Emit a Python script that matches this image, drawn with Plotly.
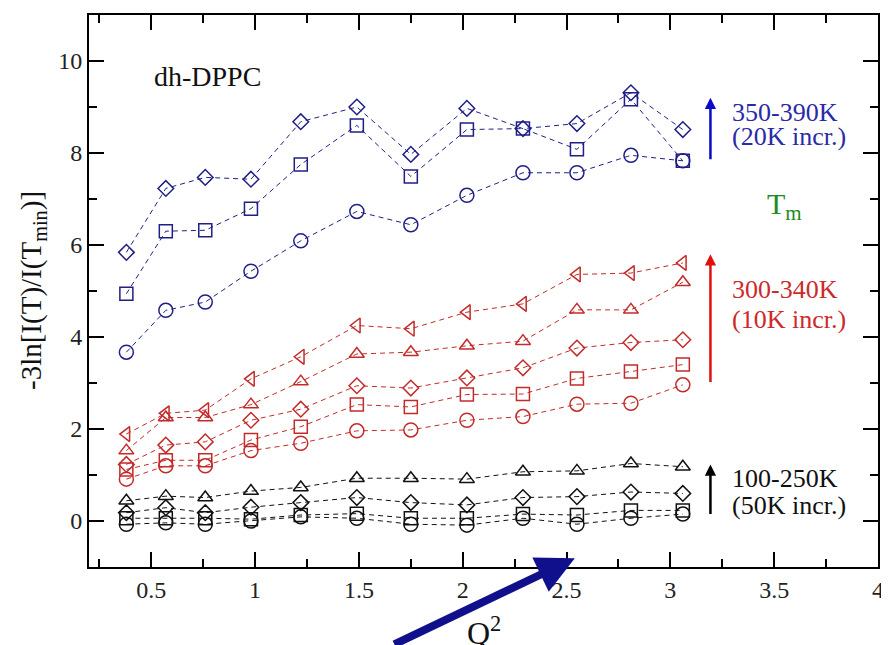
import plotly.graph_objects as go

# ---- data ----
q2 = [0.38, 0.57, 0.76, 0.98, 1.22, 1.49, 1.75, 2.02, 2.29, 2.55, 2.81, 3.06]

b350 = [3.67, 4.58, 4.76, 5.43, 6.09, 6.73, 6.44, 7.08, 7.57, 7.57, 7.95, 7.83]
b370 = [4.94, 6.30, 6.32, 6.79, 7.75, 8.60, 7.49, 8.51, 8.53, 8.08, 9.17, 7.83]
b390 = [5.84, 7.23, 7.47, 7.43, 8.68, 9.00, 7.97, 8.97, 8.53, 8.64, 9.31, 8.51]

r300 = [0.91, 1.20, 1.20, 1.53, 1.69, 1.96, 1.98, 2.19, 2.27, 2.54, 2.56, 2.96]
r310 = [1.12, 1.32, 1.32, 1.76, 2.05, 2.53, 2.48, 2.75, 2.76, 3.10, 3.25, 3.40]
r320 = [1.23, 1.65, 1.72, 2.19, 2.43, 2.94, 2.89, 3.11, 3.33, 3.76, 3.88, 3.94]
r330 = [1.53, 2.25, 2.25, 2.53, 3.03, 3.63, 3.67, 3.81, 3.91, 4.59, 4.59, 5.19]
r340 = [1.89, 2.34, 2.41, 3.09, 3.57, 4.25, 4.18, 4.54, 4.72, 5.36, 5.39, 5.61]

k100 = [-0.07, -0.04, -0.07, 0.00, 0.09, 0.06, -0.07, -0.09, 0.06, -0.07, 0.06, 0.15]
k150 = [0.06, 0.06, 0.06, 0.04, 0.13, 0.16, 0.06, 0.06, 0.15, 0.13, 0.23, 0.23]
k200 = [0.18, 0.29, 0.18, 0.30, 0.40, 0.51, 0.40, 0.35, 0.51, 0.53, 0.63, 0.60]
k250 = [0.44, 0.54, 0.51, 0.65, 0.73, 0.93, 0.93, 0.91, 1.07, 1.09, 1.25, 1.18]

x_ticks = [0.5, 1, 1.5, 2, 2.5, 3, 3.5, 4]
x_ticklabels = ["0.5", "1", "1.5", "2", "2.5", "3", "3.5", "4"]
y_ticks = [0, 2, 4, 6, 8, 10]
y_ticklabels = ["0", "2", "4", "6", "8", "10"]

BLUE = "#1f1f86"
RED = "#c42a2a"
BLACK = "#111111"

series = [
    ("100 K", k100, BLACK, "circle-open", 14),
    ("150 K", k150, BLACK, "square-open", 13),
    ("200 K", k200, BLACK, "diamond-open", 12),
    ("250 K", k250, BLACK, "triangle-up-open", 13),
    ("300 K", r300, RED, "circle-open", 14),
    ("310 K", r310, RED, "square-open", 13),
    ("320 K", r320, RED, "diamond-open", 12),
    ("330 K", r330, RED, "triangle-up-open", 13),
    ("340 K", r340, RED, "triangle-left-open", 13),
    ("350 K", b350, BLUE, "circle-open", 14),
    ("370 K", b370, BLUE, "square-open", 13),
    ("390 K", b390, BLUE, "diamond-open", 12),
]

fig = go.Figure()
for name, ys, col, sym, sz in series:
    fig.add_trace(go.Scatter(
        x=q2, y=ys, name=name, mode="lines+markers",
        line=dict(color=col, width=1, dash="5px,4px"),
        marker=dict(symbol=sym, size=sz, color=col, line=dict(color=col, width=1.5)),
        showlegend=False,
    ))

FONT = "Liberation Serif"

axis_common = dict(
    showline=True, linewidth=2, linecolor="black", mirror="allticks",
    ticks="inside", ticklen=15, tickwidth=2, tickcolor="black",
    showgrid=False, zeroline=False,
    tickfont=dict(family=FONT, size=24, color="#222"),
)
fig.update_xaxes(range=[0.2, 4], tickvals=x_ticks, ticktext=x_ticklabels,
                 minor=dict(dtick=0.25, ticklen=8, tickwidth=2, tickcolor="black", ticks="inside", tick0=0),
                 **axis_common)
fig.update_yaxes(range=[-1, 11], tickvals=y_ticks, ticktext=y_ticklabels,
                 minor=dict(dtick=1, ticklen=8, tickwidth=2, tickcolor="black", ticks="inside", tick0=0),
                 **axis_common)

ann = []
# text labels
ann.append(dict(x=0.505, y=9.67, xref="x", yref="y", text="dh-DPPC", showarrow=False,
                xanchor="left", yanchor="middle", font=dict(family=FONT, size=28, color="#111")))
for txt, yy, col in [("350-390K", 8.89, "#2a2aa8"), ("(20K incr.)", 8.35, "#2a2aa8"),
                     ("300-340K", 5.04, "#cc2a2a"), ("(10K incr.)", 4.38, "#cc2a2a"),
                     ("100-250K", 0.93, "#111"), ("(50K incr.)", 0.34, "#111")]:
    ann.append(dict(x=3.289, y=yy, xref="x", yref="y", text=txt, showarrow=False,
                    xanchor="left", yanchor="middle", font=dict(family=FONT, size=26, color=col)))
ann.append(dict(x=3.456, y=6.85, xref="x", yref="y", text="T<sub>m</sub>", showarrow=False,
                xanchor="left", yanchor="middle", font=dict(family=FONT, size=30, color="#1e8a1e")))
# small vertical arrows
for tip, tail, col in [(9.2, 7.83, "#0a0ac8"), (5.8, 2.99, "#e01010"), (1.23, 0.12, "#000")]:
    ann.append(dict(x=3.193, y=tip, ax=3.193, ay=tail, xref="x", yref="y", axref="x", ayref="y",
                    text="", showarrow=True, arrowhead=2, arrowsize=0.9, arrowwidth=2.5, arrowcolor=col))
# big navy arrow
ann.append(dict(x=2.54, y=-0.81, xref="x", yref="y", ax=-182, ay=88, axref="pixel", ayref="pixel",
                text="", showarrow=True, arrowhead=2, arrowsize=0.95, arrowwidth=8, arrowcolor="#10108c"))
# axis titles
ann.append(dict(x=0.5, y=0, xref="paper", yref="paper", text="Q<sup>2</sup>", showarrow=False,
                xanchor="center", yanchor="top", yshift=-42, font=dict(family=FONT, size=32, color="#111")))
ann.append(dict(x=0, y=0.5, xref="paper", yref="paper", text="-3ln[I(T)/I(T<sub>min</sub>)]",
                showarrow=False, textangle=-90, xanchor="center", yanchor="middle", xshift=-56,
                font=dict(family=FONT, size=29, color="#111")))

# the page body has an 8px margin, so the figure is sized to fill the window after it
fig.update_layout(
    width=881, height=637,
    margin=dict(l=81, r=9, t=5, b=78),
    paper_bgcolor="white", plot_bgcolor="white",
    font=dict(family=FONT),
    annotations=ann,
)

fig.write_html("out.html")
